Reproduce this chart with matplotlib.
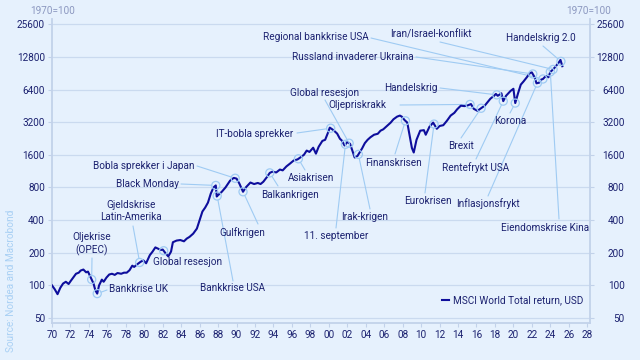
import numpy as np
import matplotlib.pyplot as plt

# MSCI World Total return, USD (1970=100)
years = np.array([
    1970.0, 1970.3, 1970.6, 1970.9, 1971.2, 1971.5, 1971.8, 1972.0, 1972.3, 1972.6,
    1972.9, 1973.1, 1973.4, 1973.7, 1973.9, 1974.2, 1974.5, 1974.7, 1974.9, 1975.1,
    1975.4, 1975.6, 1975.9, 1976.2, 1976.5, 1976.8, 1977.1, 1977.5, 1977.8, 1978.1,
    1978.4, 1978.7, 1978.9, 1979.3, 1979.6, 1979.9, 1980.2, 1980.6, 1980.9, 1981.2,
    1981.5, 1981.8, 1982.0, 1982.3, 1982.6, 1982.9, 1983.1, 1983.5, 1983.9, 1984.3,
    1984.6, 1984.9, 1985.3, 1985.7, 1986.0, 1986.3, 1986.6, 1986.9, 1987.2, 1987.5,
    1987.75, 1987.85, 1988.0, 1988.4, 1988.8, 1989.3, 1989.7, 1990.0, 1990.3, 1990.7,
    1991.0, 1991.5, 1991.9, 1992.3, 1992.6, 1992.9, 1993.3, 1993.6, 1993.9, 1994.3,
    1994.7, 1995.0, 1995.4, 1995.8, 1996.2, 1996.6, 1996.9, 1997.3, 1997.6, 1997.9,
    1998.3, 1998.6, 1998.9, 1999.3, 1999.6, 1999.9, 2000.1, 2000.5, 2000.9, 2001.2,
    2001.4, 2001.7, 2002.0, 2002.3, 2002.6, 2002.8, 2003.1, 2003.6, 2003.9, 2004.2,
    2004.5, 2004.9, 2005.3, 2005.6, 2005.9, 2006.3, 2006.7, 2007.0, 2007.4, 2007.7,
    2007.9, 2008.2, 2008.5, 2008.8, 2009.0, 2009.2, 2009.5, 2009.9, 2010.3, 2010.5,
    2010.9, 2011.3, 2011.7, 2012.0, 2012.4, 2012.8, 2013.2, 2013.6, 2013.9, 2014.3,
    2014.7, 2015.0, 2015.4, 2015.7, 2016.1, 2016.5, 2016.9, 2017.2, 2017.5, 2017.9,
    2018.1, 2018.3, 2018.7, 2018.9, 2019.2, 2019.7, 2020.0, 2020.2, 2020.5, 2020.8,
    2021.1, 2021.5, 2021.8, 2022.0, 2022.3, 2022.5, 2022.8, 2023.0, 2023.2, 2023.5,
    2023.8, 2024.0, 2024.3, 2024.6, 2024.9, 2025.1, 2025.3,
])
values = np.array([
    100, 92, 83, 95, 104, 108, 103, 109, 118, 128,
    131, 137, 140, 132, 134, 118, 104, 90, 84, 100,
    113, 108, 118, 126, 128, 125, 130, 128, 131, 131,
    138, 152, 148, 158, 165, 170, 160, 190, 205, 224,
    218, 212, 214, 198, 185, 205, 250, 259, 262, 255,
    270, 280, 300, 334, 400, 480, 522, 580, 700, 800,
    835, 660, 680, 730, 800, 925, 980, 965, 870, 730,
    800, 888, 860, 880, 860, 903, 1000, 1090, 1120, 1100,
    1170, 1150, 1250, 1330, 1420, 1450, 1510, 1600, 1750, 1700,
    1860, 1640, 1900, 2150, 2200, 2550, 2850, 2700, 2510, 2250,
    2170, 1950, 2100, 2020, 1700, 1510, 1560, 1830, 2050, 2200,
    2320, 2450, 2500, 2670, 2750, 2950, 3170, 3400, 3600, 3680,
    3600, 3350, 3170, 2300, 1850, 1680, 2200, 2670, 2700, 2450,
    2900, 3170, 2780, 2950, 3000, 3300, 3680, 3900, 4200, 4540,
    4500, 4550, 4700, 4250, 4070, 4300, 4550, 4900, 5260, 5600,
    5830, 5600, 5900, 5000, 5600, 6220, 6500, 4800, 5900, 7100,
    7600, 8400, 9100, 9200, 8300, 7300, 7400, 7900, 8000, 8500,
    8300, 9300, 9800, 10500, 11300, 12000, 10500,
])

yticks = [50, 100, 200, 400, 800, 1600, 3200, 6400, 12800, 25600]
xticks = list(range(1970, 2029, 2))
xlabels = [f"{y % 100:02d}" for y in xticks]

events = [
    "Oljekrise\n(OPEC)", "Bankkrise UK", "Gjeldskrise\nLatin-Amerika", "Global resesjon",
    "Black Monday", "Bankkrise USA", "Bobla sprekker i Japan", "Gulfkrigen",
    "Balkankrigen", "Asiakrisen", "IT-bobla sprekker", "11. september",
    "Global resesjon", "Irak-krigen", "Finanskrisen", "Eurokrisen",
    "Oljepriskrakk", "Brexit", "Handelskrig", "Rentefrykt USA",
    "Korona", "Inflasjonsfrykt", "Russland invaderer Ukraina", "Regional bankkrise USA",
    "Eiendomskrise Kina", "Iran/Israel-konflikt", "Handelskrig 2.0",
]
event_years = [
    1974.3, 1974.9, 1979.5, 1982.1,
    1987.75, 1987.9, 1989.85, 1990.7,
    1993.6, 1996.7, 2000.2, 2001.8,
    2002.2, 2003.2, 2008.3, 2011.4,
    2015.3, 2016.5, 2018.2, 2018.9,
    2020.2, 2022.6, 2022.1, 2023.2,
    2024.0, 2024.3, 2025.15,
]

# layout: label anchor (px from top-left), alignment, connector start (px)
label_layout = [
    (92, 244, 'center', (92, 258)),
    (109, 289, 'left', (107, 290)),
    (131, 211, 'center', (133, 226)),
    (153, 262, 'left', None),
    (179, 184, 'right', (181, 184)),
    (200, 288, 'left', (233, 281)),
    (93, 166, 'left', (197, 166)),
    (242, 233, 'center', (258, 224)),
    (290, 195, 'center', (278, 186)),
    (311, 178, 'center', (305, 170)),
    (216, 134, 'left', (297, 133)),
    (336, 236, 'center', (336, 228)),
    (325, 93, 'center', (325, 100)),
    (365, 217, 'center', (370, 209)),
    (394, 163, 'center', (395, 154)),
    (428, 201, 'center', (425, 193)),
    (357, 105, 'center', (400, 105)),
    (461, 146, 'center', (461, 138)),
    (411, 88, 'center', (440, 88)),
    (476, 168, 'center', (476, 159)),
    (510, 121, 'center', (510, 113)),
    (488, 204, 'center', (488, 196)),
    (353, 57, 'center', (416, 57)),
    (316, 37, 'center', (371, 38)),
    (545, 228, 'center', (559, 219)),
    (431, 35, 'center', (440, 42)),
    (541, 38, 'center', (543, 46)),
]

bg = '#E6F1FD'
navy = '#1C2270'
line_c = '#0E0E9C'
conn_c = '#9FCBF3'
spine_c = '#C2D2EA'
grid_c = '#CADAEF'

plt.rcParams['font.family'] = ['Roboto', 'DejaVu Sans']
fs = 7.2

fig = plt.figure(figsize=(6.4, 3.6), dpi=100, facecolor=bg)
ax = fig.add_axes([52/640, 37/360, 538/640, 304/360], facecolor=bg)

ax.plot(years, values, color=line_c, lw=1.5, zorder=3,
        label='MSCI World Total return, USD')

ax.set_yscale('log', base=2)
ax.set_ylim(45, 28600)
ax.set_xlim(1970, 2028.3)
ax.set_yticks(yticks, [str(v) for v in yticks])
ax.minorticks_off()
ax.set_xticks(xticks, xlabels)
ax.yaxis.grid(True, color=grid_c, lw=0.9)
ax.set_axisbelow(True)

for s in ['left', 'right', 'bottom']:
    ax.spines[s].set_color(spine_c)
    ax.spines[s].set_linewidth(1.3)
ax.spines['top'].set_visible(False)
ax.tick_params(axis='both', direction='out', length=3, color=spine_c,
               labelsize=fs, labelcolor=navy, pad=2)

ax2 = ax.twinx()
ax2.set_yscale('log', base=2)
ax2.set_ylim(ax.get_ylim())
ax2.set_yticks(yticks, [str(v) for v in yticks])
ax2.minorticks_off()
for s in ax2.spines.values():
    s.set_visible(False)
ax2.tick_params(axis='y', direction='out', length=3, color=spine_c,
                labelsize=fs, labelcolor=navy, pad=22)
for lab in ax2.get_yticklabels():
    lab.set_horizontalalignment('right')


def px(x, y):
    return (x, 360 - y)


ev_vals = np.interp(event_years, years, values)
ax.scatter(event_years, ev_vals, s=34, facecolors='none', edgecolors=conn_c,
           linewidths=0.9, zorder=4)

for name, ex, ev, (lx, ly, ha, start) in zip(events, event_years, ev_vals, label_layout):
    fig.text(lx / 640, (360 - ly) / 360, name, ha=ha, va='center',
             fontsize=fs, color=navy, linespacing=1.25, multialignment='center')
    if start is not None:
        ax.annotate('', xy=(ex, ev), xycoords='data',
                    xytext=px(*start), textcoords='figure pixels',
                    arrowprops=dict(arrowstyle='-', color=conn_c, lw=0.8,
                                    shrinkA=0, shrinkB=3),
                    zorder=2)

ax.legend(loc='center right', bbox_to_anchor=(583/640, 60/360),
          bbox_transform=fig.transFigure, frameon=False, fontsize=fs,
          labelcolor=navy, handlelength=0.7, handletextpad=0.35,
          borderpad=0, borderaxespad=0)

fig.text(30/640, 349/360, '1970=100', fontsize=fs, color='#8C98C0',
         ha='left', va='center')
fig.text(611/640, 349/360, '1970=100', fontsize=fs, color='#8C98C0',
         ha='right', va='center')
fig.text(11/640, 8/360, 'Source: Nordea and Macrobond', rotation=90,
         fontsize=fs, color='#A9D0F4', ha='center', va='bottom')

fig.savefig('out.png', dpi=100, facecolor=bg)
